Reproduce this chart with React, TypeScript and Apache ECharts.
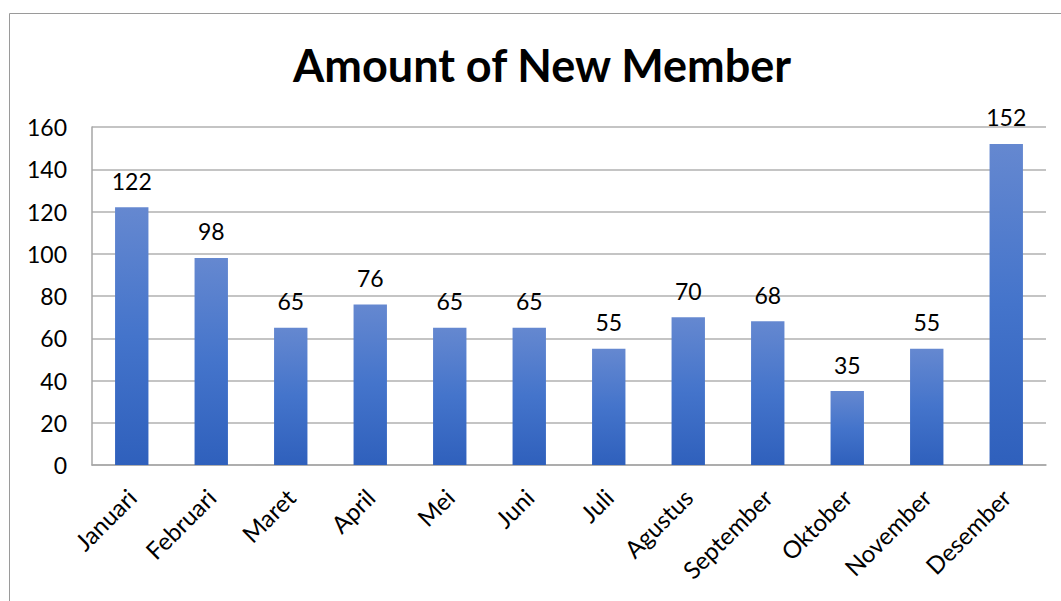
import React, { useEffect, useRef } from "react";
import * as echarts from "echarts";

const months = ["Januari", "Februari", "Maret", "April", "Mei", "Juni", "Juli", "Agustus", "September", "Oktober", "November", "Desember"];
const newMembers = [122, 98, 65, 76, 65, 65, 55, 70, 68, 35, 55, 152];
const chartTitle = "Amount of New Member";

const FONT = "Lato, 'Open Sans', sans-serif";

export default function App() {
  const ref = useRef<HTMLDivElement>(null);
  useEffect(() => {
    if (!ref.current) return;
    const chart = echarts.init(ref.current, undefined, { renderer: "svg" });
    chart.setOption({
      animation: false,
      backgroundColor: "#ffffff",
      title: {
        text: chartTitle,
        left: 293,
        top: 42,
        padding: 0,
        textStyle: { fontFamily: FONT, fontWeight: "bold", fontSize: 45, color: "#000" },
      },
      graphic: [
        {
          type: "rect",
          shape: { x: 9.5, y: 13.5, width: 1200, height: 800 },
          style: { fill: "none", stroke: "#9a9a9a", lineWidth: 1 },
          silent: true,
        },
      ],
      grid: { left: 92, right: 15, top: 127, bottom: 136, containLabel: false },
      xAxis: {
        type: "category",
        data: months,
        axisLine: { show: true, lineStyle: { color: "#a6a6a6", width: 1.5 } },
        axisTick: { show: false },
        axisLabel: {
          rotate: 45,
          interval: 0,
          margin: 28,
          fontFamily: FONT,
          fontSize: 24,
          color: "#000",
        },
      },
      yAxis: {
        type: "value",
        min: 0,
        max: 160,
        interval: 20,
        axisLine: { show: true, lineStyle: { color: "#a6a6a6", width: 1.5 } },
        axisTick: { show: false },
        splitLine: { show: true, lineStyle: { color: "#b0b0b0", width: 1.5 } },
        axisLabel: { margin: 25, fontFamily: FONT, fontSize: 23, color: "#000" },
      },
      series: [
        {
          type: "bar",
          data: newMembers,
          barWidth: "42%",
          itemStyle: {
            color: new echarts.graphic.LinearGradient(0, 0, 0, 1, [
              { offset: 0, color: "#6588d0" },
              { offset: 0.5, color: "#4474cb" },
              { offset: 1, color: "#2f60bc" },
            ]),
          },
          label: {
            show: true,
            position: "top",
            distance: 15,
            fontFamily: FONT,
            fontSize: 23,
            color: "#000",
          },
        },
      ],
    });
    return () => chart.dispose();
  }, []);
  return (
    <div
      ref={ref}
      style={{ position: "absolute", left: 0, top: 0, width: 1061, height: 601 }}
    />
  );
}
